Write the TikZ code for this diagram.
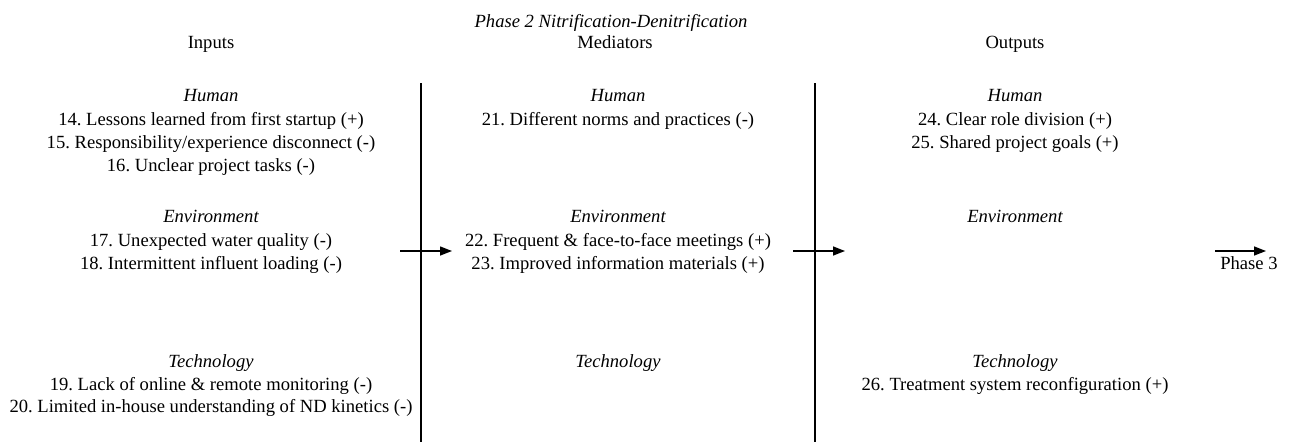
\documentclass[tikz,border=0pt]{standalone}
\usepackage{fontspec}
\setmainfont{Liberation Serif}
\usetikzlibrary{arrows.meta}
\frenchspacing
\begin{document}
\begin{tikzpicture}[x=1pt,y=-1pt,
  every node/.style={inner sep=0pt, anchor=mid, font=\fontsize{18.6}{23}\selectfont},
  cat/.style={font=\fontsize{18.6}{23}\selectfont\itshape},
  divider/.style={line width=2pt},
  flow/.style={line width=1.4pt, -{Triangle[length=12pt,width=9pt]}}]
\useasboundingbox (0,0) rectangle (1293,442);

% title and column headings
\node[cat] (title) at (611,25) {Phase 2 Nitrification-Denitrification};
\node (inputs) at (211,46) {Inputs};
\node (mediators) at (615,46) {Mediators};
\node (outputs) at (1015,46) {Outputs};

% column dividers
\coordinate (d1top) at (421,83);  \coordinate (d1bot) at (421,442);
\coordinate (d2top) at (815,83);  \coordinate (d2bot) at (815,442);
\draw[divider] (d1top) -- (d1bot);
\draw[divider] (d2top) -- (d2bot);

% inputs
\node[cat] (inHum) at (211,99) {Human};
\node (i14) at (211,123) {14. Lessons learned from first startup (+)};
\node (i15) at (211,146) {15. Responsibility/experience disconnect (-)};
\node (i16) at (211,169) {16. Unclear project tasks (-)};
\node[cat] (inEnv) at (211,220) {Environment};
\node (i17) at (211,244) {17. Unexpected water quality (-)};
\node (i18) at (211,267) {18. Intermittent influent loading (-)};
\node[cat] (inTec) at (211,365) {Technology};
\node (i19) at (211,388) {19. Lack of online \& remote monitoring (-)};
\node (i20) at (211,410) {20. Limited in-house understanding of ND kinetics (-)};

% mediators
\node[cat] (meHum) at (618,99) {Human};
\node (m21) at (618,123) {21. Different norms and practices (-)};
\node[cat] (meEnv) at (618,220) {Environment};
\node (m22) at (618,244) {22. Frequent \& face-to-face meetings (+)};
\node (m23) at (618,267) {23. Improved information materials (+)};
\node[cat] (meTec) at (618,365) {Technology};

% outputs
\node[cat] (ouHum) at (1015,99) {Human};
\node (o24) at (1015,123) {24. Clear role division (+)};
\node (o25) at (1015,146) {25. Shared project goals (+)};
\node[cat] (ouEnv) at (1015,220) {Environment};
\node[cat] (ouTec) at (1015,365) {Technology};
\node (o26) at (1015,388) {26. Treatment system reconfiguration (+)};

% flow arrows
\coordinate (a1s) at (400,251); \coordinate (a1e) at (452,251);
\coordinate (a2s) at (793,251); \coordinate (a2e) at (845,251);
\coordinate (a3s) at (1215,251); \coordinate (a3e) at (1266,251);
\draw[flow] (a1s) -- (a1e);
\draw[flow] (a2s) -- (a2e);
\draw[flow] (a3s) -- (a3e);
\node (phase3) at (1249,267) {Phase 3};
\end{tikzpicture}
\end{document}
